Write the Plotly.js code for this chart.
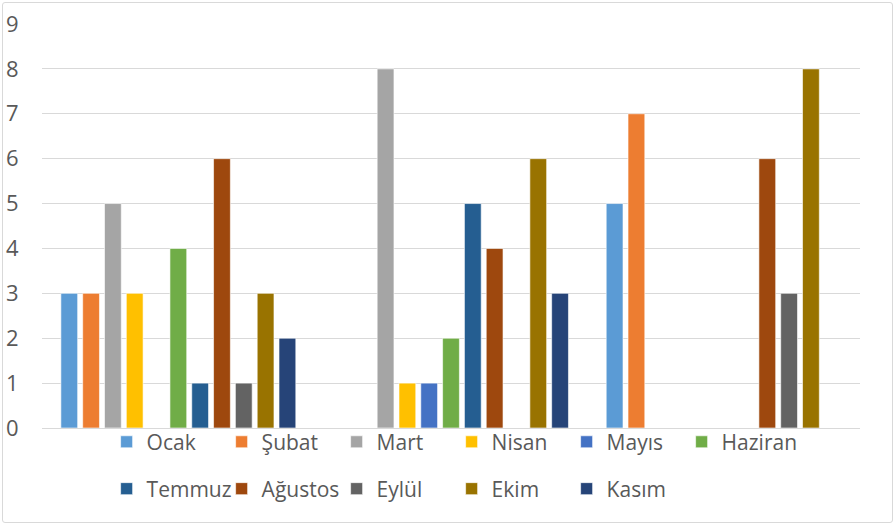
<!DOCTYPE html>
<html>
<head>
<meta charset="utf-8">
<script src="https://cdn.plot.ly/plotly-3.0.1.min.js"></script>
<style>
  html, body { margin: 0; padding: 0; background: #fff; }
  #wrap { position: relative; width: 895px; height: 526px; }
  #chart { position: absolute; left: 0; top: 0; width: 895px; height: 526px; }
  #frame { position: absolute; left: 2px; top: 2px; width: 889px; height: 519px;
           border: 1px solid #d9d9d9; border-radius: 3px; pointer-events: none; }
</style>
</head>
<body>
<div id="wrap"><div id="chart"></div><div id="frame"></div></div>
<script>
// Categories (unlabelled groups in the reference)
const groups = ["1", "2", "3"];

// Series names (months)
const seriesNames = ["Ocak", "Şubat", "Mart", "Nisan", "Mayıs", "Haziran",
                     "Temmuz", "Ağustos", "Eylül", "Ekim", "Kasım"];

// Values per series, one per group
const ocak    = [3, 0, 5];
const subat   = [3, 0, 7];
const mart    = [5, 8, 0];
const nisan   = [3, 1, 0];
const mayis   = [0, 1, 0];
const haziran = [4, 2, 0];
const temmuz  = [1, 5, 0];
const agustos = [6, 4, 6];
const eylul   = [1, 0, 3];
const ekim    = [3, 6, 8];
const kasim   = [2, 3, 0];

const seriesValues = [ocak, subat, mart, nisan, mayis, haziran,
                      temmuz, agustos, eylul, ekim, kasim];

const colors = ["#5B9BD5", "#ED7D31", "#A5A5A5", "#FFC000", "#4472C4", "#70AD47",
                "#255E91", "#9E480E", "#636363", "#997300", "#264478"];

const traces = seriesNames.map((name, i) => ({
  type: "bar",
  name: name,
  x: groups,
  y: seriesValues[i],
  marker: { color: colors[i], line: { color: "rgba(255,255,255,0.6)", width: 1 } },
  legend: i < 6 ? "legend" : "legend2",
  hoverinfo: "name+y"
}));

const legendFont = { family: "Open Sans, sans-serif", size: 21, color: "#595959" };

const layout = {
  width: 895,
  height: 526,
  margin: { l: 42, r: 35, t: 24, b: 98 },
  paper_bgcolor: "#ffffff",
  plot_bgcolor: "#ffffff",
  barmode: "group",
  bargap: 0.12,
  bargroupgap: 0.23,
  font: { family: "Open Sans, sans-serif", size: 21, color: "#595959" },
  xaxis: {
    type: "category",
    showticklabels: false,
    showgrid: false,
    zeroline: false,
    showline: false,
    ticks: ""
  },
  yaxis: {
    range: [0, 9],
    dtick: 1,
    tick0: 0,
    showgrid: true,
    gridcolor: "#d9d9d9",
    gridwidth: 1,
    zeroline: true,
    zerolinecolor: "#d9d9d9",
    zerolinewidth: 1,
    showline: false,
    ticks: "outside",
    ticklen: 18,
    tickcolor: "rgba(0,0,0,0)",
    tickfont: { family: "Open Sans, sans-serif", size: 22, color: "#595959" }
  },
  legend: {
    orientation: "h",
    x: 0.079, xanchor: "left",
    y: -0.035, yanchor: "middle",
    font: legendFont,
    entrywidth: 70,
    entrywidthmode: "pixels",
    bgcolor: "rgba(0,0,0,0)",
    traceorder: "normal"
  },
  legend2: {
    orientation: "h",
    x: 0.079, xanchor: "left",
    y: -0.151, yanchor: "middle",
    font: legendFont,
    entrywidth: 70,
    entrywidthmode: "pixels",
    bgcolor: "rgba(0,0,0,0)",
    traceorder: "normal"
  },
  showlegend: true
};

Plotly.newPlot("chart", traces, layout, { displayModeBar: false, staticPlot: true });
</script>
</body>
</html>
